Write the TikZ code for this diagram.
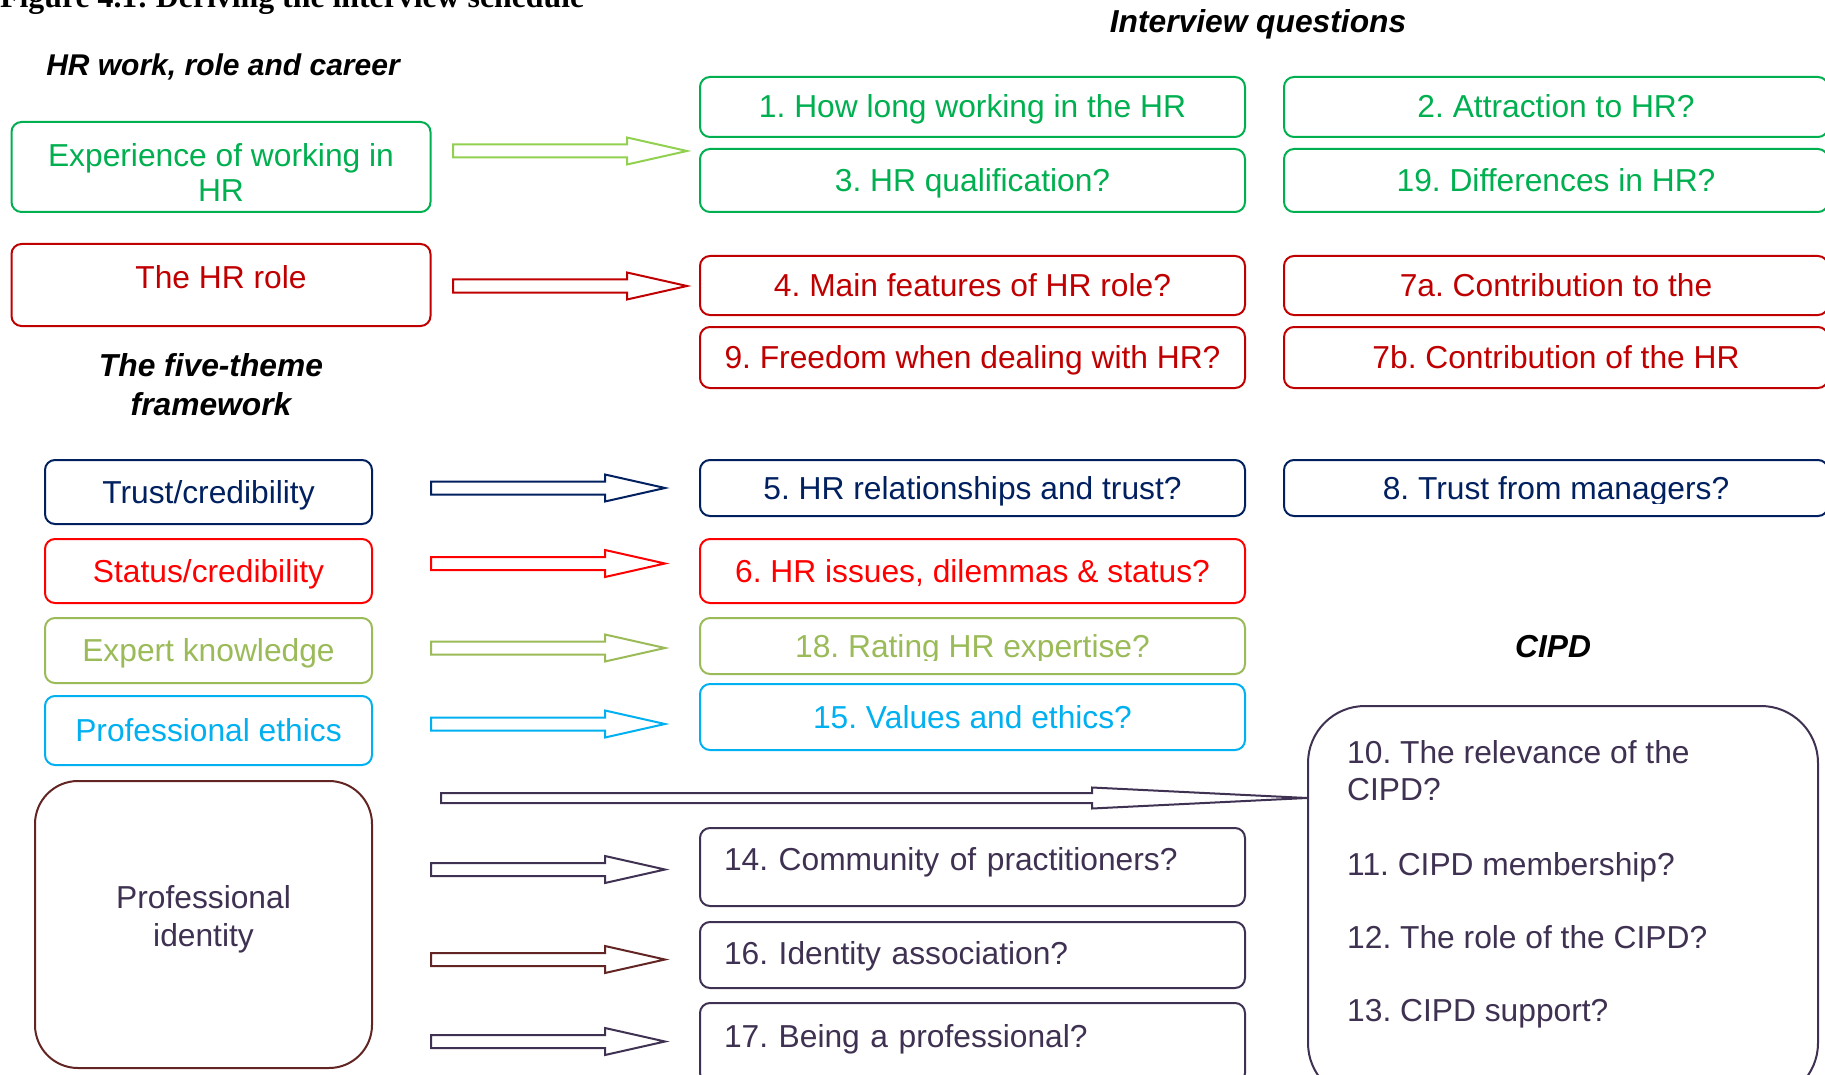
\documentclass[tikz,border=0pt]{standalone}
\usepackage{fontspec}
\setmainfont{Liberation Sans}
\newfontfamily\titlefont{Liberation Serif}
\usepackage{adjustbox}
\usetikzlibrary{calc}
\frenchspacing
\definecolor{cgreen}{HTML}{00B050}
\definecolor{clime}{HTML}{92D050}
\definecolor{cdred}{HTML}{C00000}
\definecolor{cnavy}{HTML}{002060}
\definecolor{cred}{HTML}{FF0000}
\definecolor{colive}{HTML}{9BBB59}
\definecolor{ccyan}{HTML}{00B0F0}
\definecolor{cpurp}{HTML}{3F3151}
\definecolor{cbrown}{HTML}{632523}
% block arrow: start, end, colour, half shaft, half head, head length
\newcommand\blockarr[6]{%
  \draw[arrowline,#3] ($(#1)+(0,-#4)$) -- ($(#2)+(-#6,-#4)$) -- ($(#2)+(-#6,-#5)$) -- (#2)
    -- ($(#2)+(-#6,#5)$) -- ($(#2)+(-#6,#4)$) -- ($(#1)+(0,#4)$) -- cycle;}
\begin{document}
\frenchspacing
\begin{tikzpicture}[x=1pt,y=-1pt,
  every node/.style={inner sep=0pt, font=\fontsize{31.75}{37}\selectfont},
  box/.style={draw, line width=2pt, rounded corners=10pt, fill=white},
  lbox/.style={box, minimum width=327pt, text height=25pt, text depth=3pt},
  qbox/.style={box, minimum width=545pt, text height=25pt, text depth=3pt},
  rbox/.style={box, minimum width=544pt, text height=25pt, text depth=3pt},
  pbox/.style={box, draw=cpurp, text=cpurp, text width=497pt, inner xsep=24pt, align=left, text height=25pt},
  head/.style={font=\fontsize{31.75}{39}\selectfont\bfseries\itshape},
  arrowline/.style={line width=2pt, fill=white, line join=miter}
]
\clip (0,0) rectangle (1825,1075);

% headings
\node[anchor=base west, font=\fontsize{31.8}{36}\selectfont\titlefont\bfseries] (title) at (0,8) {Figure 4.1: Deriving the interview schedule};
\node[head, anchor=base] (hqt) at (1258,33) {Interview questions};
\node[head, anchor=base, font=\fontsize{30}{36}\selectfont\bfseries\itshape] (hhr) at (223,76) {HR work, role and career};
\node[head, align=center, anchor=north] (hft) at (211,353) {The five-theme\\framework};
\node[head, anchor=base] (hcipd) at (1553,657) {CIPD};

% left column
\node[box, draw=cgreen, minimum width=419pt, minimum height=90pt] (exp) at (221,167) {};
\node[text=cgreen, align=center, anchor=north, font=\fontsize{31.75}{35}\selectfont] (expt) at (221,143) {Experience of working in\\HR};
\node[box, draw=cdred, text=cdred, minimum width=419pt, minimum height=82pt, text height=25pt, text depth=17pt] (role) at (221,285) {The HR role};

\node[lbox, draw=cnavy, text=cnavy, minimum height=64pt] (trust) at (208.5,492) {Trust/credibility};
\node[lbox, draw=cred, text=cred, minimum height=64pt] (status) at (208.5,571) {Status/credibility};
\node[lbox, draw=colive, text=colive, minimum height=65pt] (expert) at (208.5,650.5) {Expert knowledge};
\node[lbox, draw=ccyan, text=ccyan, minimum height=69pt] (ethics) at (208.5,730.5) {Professional ethics};
\node[box, draw=cbrown, rounded corners=43pt, minimum width=337pt, minimum height=287pt] (ident) at (203.5,924.5) {};
\node[text=cpurp, align=center, anchor=north, font=\fontsize{31.75}{38}\selectfont] (identt) at (203.5,885) {Professional\\identity};

% middle column
\node[qbox, draw=cgreen, text=cgreen, minimum height=60pt] (b1) at (972.5,107) {1. How long working in the HR};
\node[qbox, draw=cgreen, text=cgreen, minimum height=63pt] (b3) at (972.5,180.5) {3. HR qualification?};
\node[qbox, draw=cdred, text=cdred, minimum height=59pt] (b4) at (972.5,285.5) {4. Main features of HR role?};
\node[qbox, draw=cdred, text=cdred, minimum height=61pt] (b9) at (972.5,357.5) {9. Freedom when dealing with HR?};
\node[qbox, draw=cnavy, text=cnavy, minimum height=56pt] (b5) at (972.5,488) {5. HR relationships and trust?};
\node[qbox, draw=cred, text=cred, minimum height=64pt] (b6) at (972.5,571) {6. HR issues, dilemmas \& status?};
\node[qbox, draw=colive, text=colive, minimum height=56pt] (b18) at (972.5,646) {\adjustbox{trim=0pt 2.7pt 0pt 0pt,clip}{18. Rating HR expertise?}};
\node[qbox, draw=ccyan, text=ccyan, minimum height=66pt] (b15) at (972.5,717) {15. Values and ethics?};
\node[pbox, minimum height=78pt, text depth=19pt] (b14) at (972.5,867) {14. Community of practitioners?};
\node[pbox, minimum height=66pt, text depth=7pt] (b16) at (972.5,955) {16. Identity association?};
\node[pbox, minimum height=80pt, text depth=17pt] (b17) at (972.5,1043) {17. Being a professional?};

% right column
\node[rbox, draw=cgreen, text=cgreen, minimum height=60pt] (b2) at (1556,107) {2. Attraction to HR?};
\node[rbox, draw=cgreen, text=cgreen, minimum height=63pt] (b19) at (1556,180.5) {19. Differences in HR?};
\node[rbox, draw=cdred, text=cdred, minimum height=59pt] (b7a) at (1556,285.5) {7a. Contribution to the};
\node[rbox, draw=cdred, text=cdred, minimum height=61pt] (b7b) at (1556,357.5) {7b. Contribution of the HR};
\node[rbox, draw=cnavy, text=cnavy, minimum height=56pt] (b8) at (1556,488) {\adjustbox{trim=0pt 2.5pt 0pt 0pt,clip}{8. Trust from managers?}};

% CIPD box
\node[box, draw=cpurp, rounded corners=57pt, minimum width=510pt, minimum height=394pt] (cipd) at (1563,903) {};
\node[text=cpurp, align=left, anchor=north west, font=\fontsize{31.75}{37}\selectfont] (cipdt) at (1347,740)
  {10. The relevance of the\\CIPD?\\[38pt]11. CIPD membership?\\[36pt]12. The role of the CIPD?\\[36pt]13. CIPD support?};

% arrow end points
\coordinate (a1s) at (453,151);   \coordinate (a1e) at (687,151);
\coordinate (a2s) at (453,286);   \coordinate (a2e) at (687,286);
\coordinate (a3s) at (431,488);   \coordinate (a3e) at (665,488);
\coordinate (a4s) at (431,563.5); \coordinate (a4e) at (665,563.5);
\coordinate (a5s) at (431,648);   \coordinate (a5e) at (665,648);
\coordinate (a6s) at (431,724);   \coordinate (a6e) at (665,724);
\coordinate (a7s) at (441,798);   \coordinate (a7e) at (cipd.west |- a7s);
\coordinate (a8s) at (431,869.5); \coordinate (a8e) at (665,869.5);
\coordinate (a9s) at (431,959.5); \coordinate (a9e) at (665,959.5);
\coordinate (a10s) at (431,1041.5); \coordinate (a10e) at (665,1041.5);

\blockarr{a1s}{a1e}{draw=clime}{6.5}{13.5}{60}
\blockarr{a2s}{a2e}{draw=cdred}{6.5}{13.5}{60}
\blockarr{a3s}{a3e}{draw=cnavy}{6.5}{13.5}{60}
\blockarr{a4s}{a4e}{draw=cred}{6.5}{13.5}{60}
\blockarr{a5s}{a5e}{draw=colive}{6.5}{13.5}{60}
\blockarr{a6s}{a6e}{draw=ccyan}{6.5}{13.5}{60}
\blockarr{a7s}{a7e}{draw=cpurp}{5}{10.5}{215}
\blockarr{a8s}{a8e}{draw=cpurp}{6.5}{13.5}{60}
\blockarr{a9s}{a9e}{draw=cbrown}{6.5}{13.5}{60}
\blockarr{a10s}{a10e}{draw=cpurp}{6.5}{13.5}{60}
\end{tikzpicture}
\end{document}
